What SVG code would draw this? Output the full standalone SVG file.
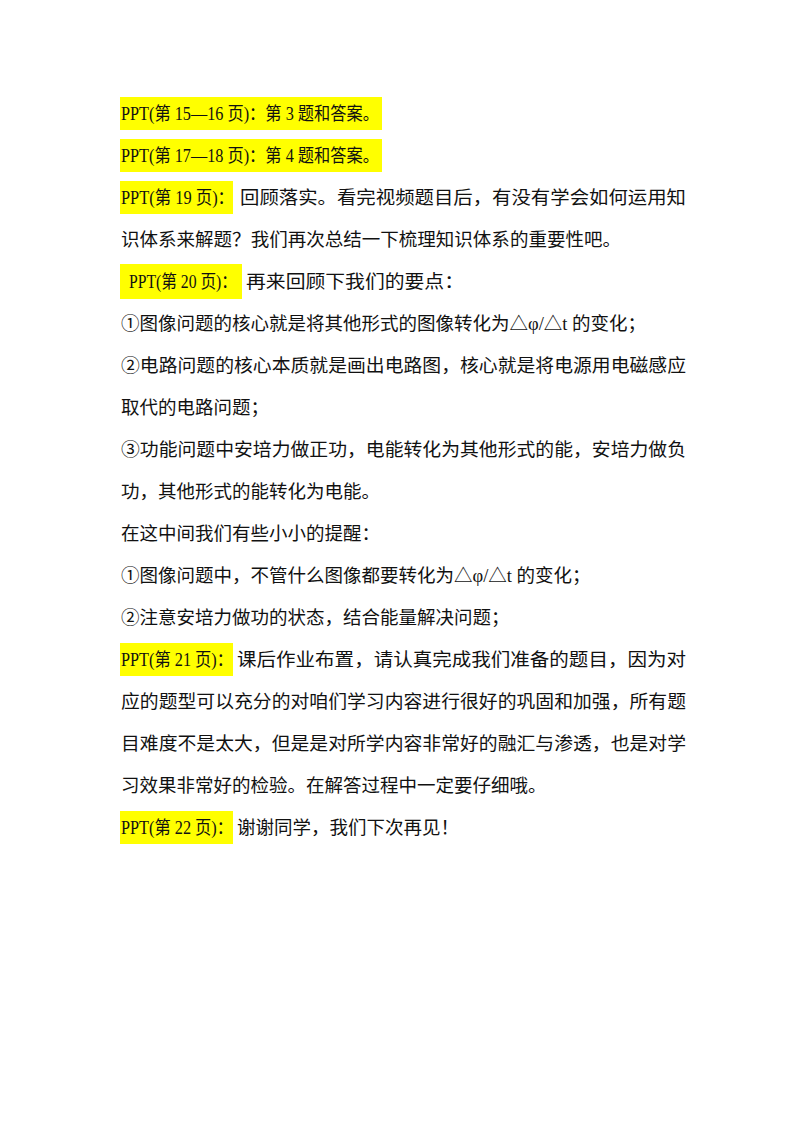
<svg xmlns="http://www.w3.org/2000/svg" width="800" height="1132" viewBox="0 0 800 1132">
<style>
text{font-family:"Liberation Serif","Noto Sans CJK SC",serif;font-size:18.5px;fill:#111}
.hl{fill:#ffff00}
</style>
<rect width="800" height="1132" fill="#fff"/>
<rect class="hl" x="120" y="97" width="262" height="33"/>
<rect class="hl" x="120" y="139" width="262" height="33"/>
<rect class="hl" x="120" y="181" width="113" height="33"/>
<rect class="hl" x="120" y="264" width="122" height="35"/>
<rect class="hl" x="120" y="643" width="113" height="33"/>
<rect class="hl" x="120" y="811" width="113" height="33"/>
<text x="121" y="120" textLength="258" lengthAdjust="spacingAndGlyphs">PPT(第 15—16 页)：第 3 题和答案。</text>
<text x="121" y="162" textLength="258" lengthAdjust="spacingAndGlyphs">PPT(第 17—18 页)：第 4 题和答案。</text>
<text x="121" y="204" textLength="113" lengthAdjust="spacingAndGlyphs">PPT(第 19 页)：</text>
<text x="240" y="204" textLength="446" lengthAdjust="spacingAndGlyphs">回顾落实。看完视频题目后，有没有学会如何运用知</text>
<text x="121" y="246" textLength="500" lengthAdjust="spacingAndGlyphs">识体系来解题？我们再次总结一下梳理知识体系的重要性吧。</text>
<text x="129" y="288" textLength="108" lengthAdjust="spacingAndGlyphs">PPT(第 20 页)：</text>
<text x="246" y="288" textLength="218" lengthAdjust="spacingAndGlyphs">再来回顾下我们的要点：</text>
<text x="121" y="330">①图像问题的核心就是将其他形式的图像转化为△φ/△t 的变化；</text>
<text x="121" y="372" textLength="565" lengthAdjust="spacingAndGlyphs">②电路问题的核心本质就是画出电路图，核心就是将电源用电磁感应</text>
<text x="121" y="414">取代的电路问题；</text>
<text x="121" y="456" textLength="565" lengthAdjust="spacingAndGlyphs">③功能问题中安培力做正功，电能转化为其他形式的能，安培力做负</text>
<text x="121" y="498">功，其他形式的能转化为电能。</text>
<text x="121" y="540">在这中间我们有些小小的提醒：</text>
<text x="121" y="582">①图像问题中，不管什么图像都要转化为△φ/△t 的变化；</text>
<text x="121" y="624">②注意安培力做功的状态，结合能量解决问题；</text>
<text x="121" y="666" textLength="112" lengthAdjust="spacingAndGlyphs">PPT(第 21 页)：</text>
<text x="237" y="666" textLength="449" lengthAdjust="spacingAndGlyphs">课后作业布置，请认真完成我们准备的题目，因为对</text>
<text x="121" y="708" textLength="565" lengthAdjust="spacingAndGlyphs">应的题型可以充分的对咱们学习内容进行很好的巩固和加强，所有题</text>
<text x="121" y="750" textLength="565" lengthAdjust="spacingAndGlyphs">目难度不是太大，但是是对所学内容非常好的融汇与渗透，也是对学</text>
<text x="121" y="792">习效果非常好的检验。在解答过程中一定要仔细哦。</text>
<text x="121" y="834" textLength="112" lengthAdjust="spacingAndGlyphs">PPT(第 22 页)：</text>
<text x="237" y="834">谢谢同学，我们下次再见！</text>
</svg>
